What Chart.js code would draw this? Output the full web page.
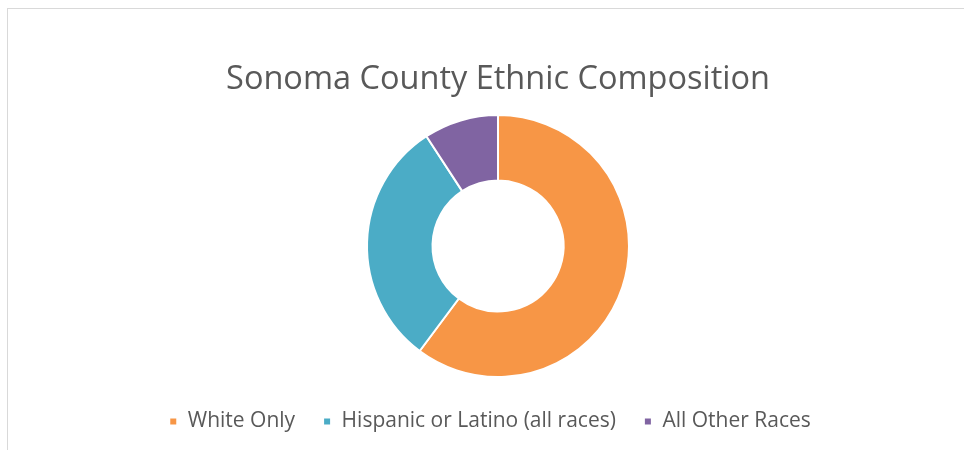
<!DOCTYPE html>
<html>
<head>
<meta charset="utf-8">
<script src="https://cdn.jsdelivr.net/npm/chart.js@4"></script>
<style>
  html, body { margin: 0; padding: 0; background: #fff; overflow: hidden; }
  #frame {
    position: absolute; left: 7px; top: 8px;
    width: 990px; height: 500px;
    border: 1px solid #d9d9d9;
  }
  #wrap { position: absolute; left: 8px; top: 9px; width: 984px; height: 441px; }
</style>
</head>
<body>
<div id="frame"></div>
<div id="wrap"><canvas id="ethnicChart"></canvas></div>
<script>
// Sonoma County share by group, in percent
const groups = ['White Only', 'Hispanic or Latino (all races)', 'All Other Races'];
const shares = [60.2, 30.6, 9.2];
const groupColors = ['#F79646', '#4BACC6', '#8064A2'];

// legend sits a little left of the ring's centre in the original
const legendNudge = {
    id: 'legendNudge',
    afterLayout(chart) {
        if (!chart.legend) return;
        chart.legend.left -= 8;
        chart.legend.right -= 8;
    }
};

document.addEventListener("DOMContentLoaded", function() {
    const ctx = document.getElementById('ethnicChart').getContext('2d');

    new Chart(ctx, {
        type: 'doughnut',
        data: {
            labels: groups,
            datasets: [{
                data: shares,
                backgroundColor: groupColors,
                borderColor: '#ffffff',
                borderWidth: 2
            }]
        },
        options: {
            responsive: true,
            maintainAspectRatio: false,
            animation: false,
            radius: 131,
            cutout: 68,
            layout: {
                padding: { top: 0, bottom: 8, left: 0, right: 4 }
            },
            plugins: {
                title: {
                    display: true,
                    text: 'Sonoma County Ethnic Composition',
                    color: '#595959',
                    font: { family: '"Open Sans"', size: 32.5, weight: 'normal' },
                    padding: { top: 51, bottom: 10 }
                },
                legend: {
                    position: 'bottom',
                    labels: {
                        color: '#595959',
                        font: { family: '"Open Sans"', size: 21 },
                        boxWidth: 8,
                        boxHeight: 8,
                        padding: 28
                    }
                },
                tooltip: { enabled: false }
            }
        },
        plugins: [legendNudge]
    });
});
</script>
</body>
</html>
